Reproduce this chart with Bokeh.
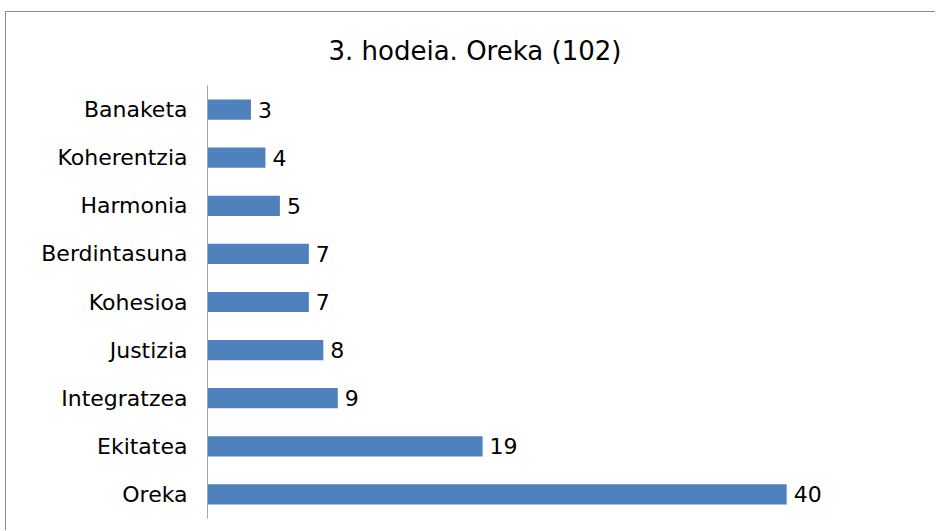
from bokeh.plotting import figure
from bokeh.models import FactorRange, Range1d, ColumnDataSource
from bokeh.core.properties import value
from bokeh.embed import file_html
from bokeh.resources import INLINE

categories = ["Oreka", "Ekitatea", "Integratzea", "Justizia", "Kohesioa",
              "Berdintasuna", "Harmonia", "Koherentzia", "Banaketa"]
counts = [40, 19, 9, 8, 7, 7, 5, 4, 3]
title_text = "3. hodeia. Oreka (102)"

FONT = "DejaVu Sans"
src = ColumnDataSource(dict(cat=categories, val=counts, lab=[str(v) for v in counts]))

p = figure(width=930, height=519, output_backend="svg", toolbar_location=None,
           y_range=FactorRange(factors=categories), x_range=Range1d(0, 48),
           min_border_left=201, min_border_right=34, min_border_bottom=13,
           min_border_top=73, title=title_text)
p.styles = {"border-top": "1px solid #8c8c8c", "border-left": "1px solid #8c8c8c",
            "margin-top": "11px", "margin-left": "5px"}

p.title.align = "left"
p.title.offset = 121
p.title.vertical_align = "middle"
p.title.text_font = FONT
p.title.text_font_size = "26px"
p.title.text_font_style = "normal"
p.title.text_color = "#000000"
p.title.standoff = 37

p.hbar(y="cat", right="val", left=0, height=0.42, source=src,
       fill_color="#4F81BD", line_color=None)
p.text(x="val", y="cat", text="lab", source=src, x_offset=7,
       text_baseline="middle", text_align="left",
       text_font=value(FONT), text_font_size="22px", text_color="#000000")

p.xaxis.visible = False
p.xgrid.visible = False
p.ygrid.visible = False
p.outline_line_color = None
ax = p.yaxis[0]
ax.axis_line_color = "#a6a6a6"
ax.axis_line_width = 1
ax.major_tick_line_color = None
ax.minor_tick_line_color = None
ax.major_tick_out = 0
ax.major_tick_in = 0
ax.major_label_standoff = 20
ax.major_label_text_font = FONT
ax.major_label_text_font_size = "22px"
ax.major_label_text_color = "#000000"

open("out.html", "w").write(file_html(p, INLINE))
